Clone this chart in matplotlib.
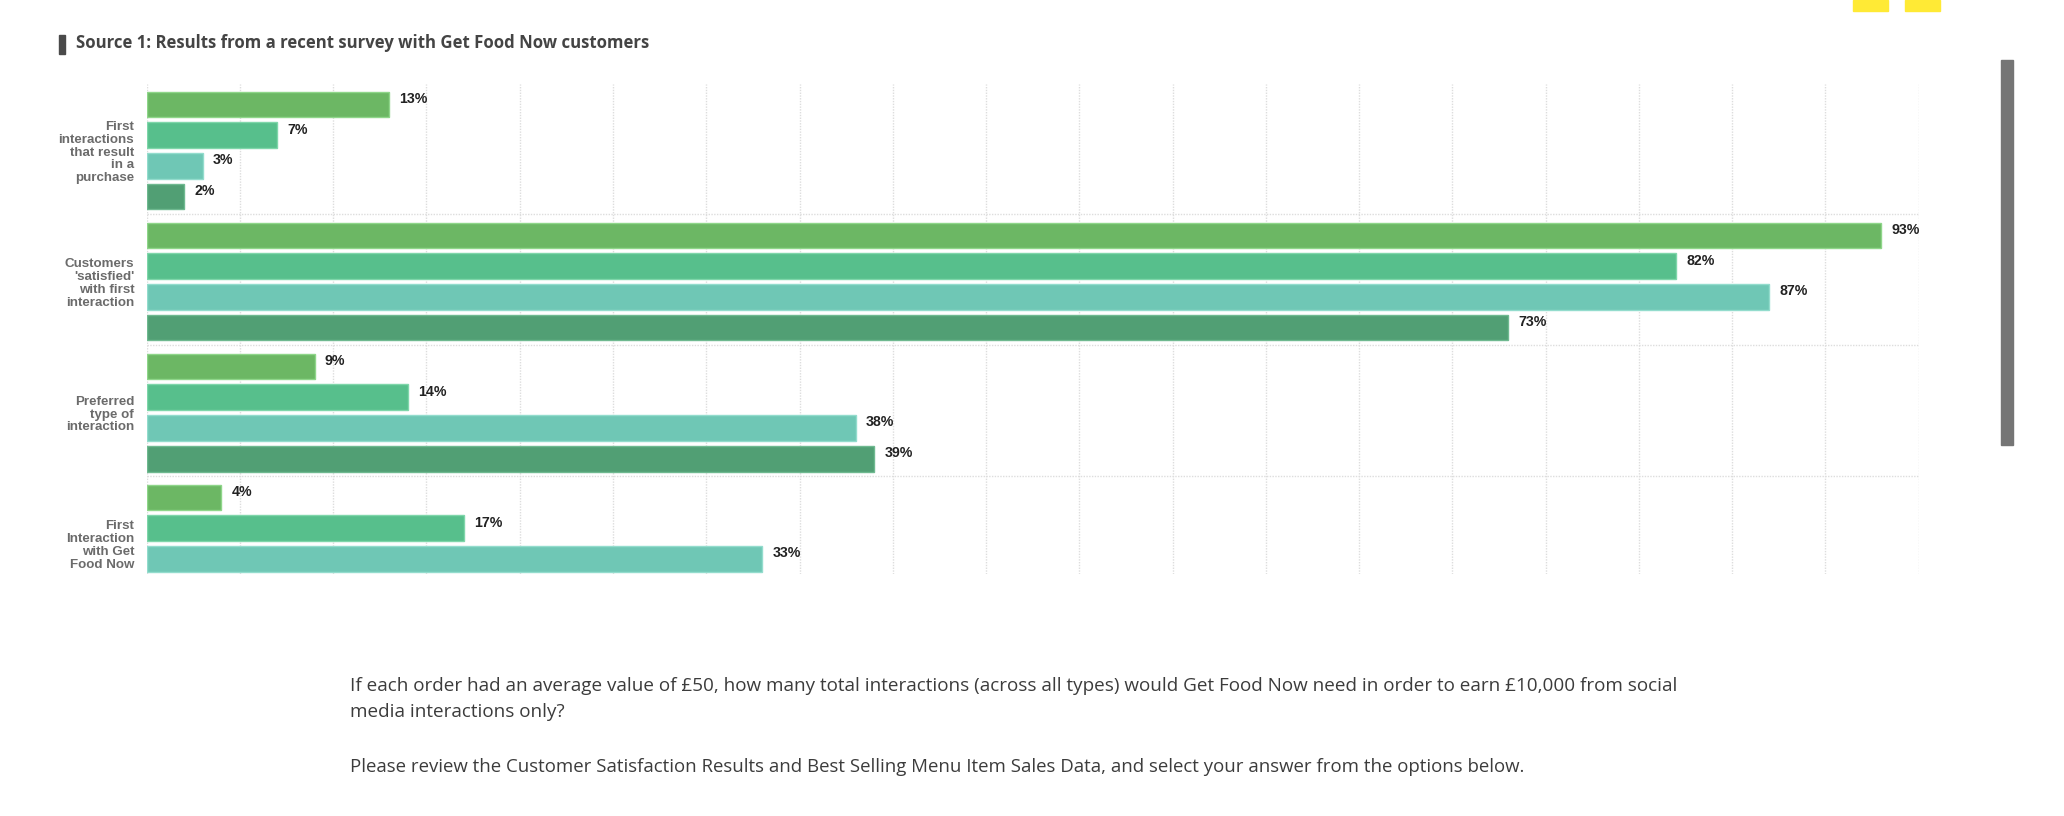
import numpy as np
import matplotlib.pyplot as plt
from matplotlib.patches import Rectangle

groups = ["First\ninteractions\nthat result\nin a\npurchase",
          "Customers\n'satisfied'\nwith first\ninteraction",
          "Preferred\ntype of\ninteraction",
          "First\nInteraction\nwith Get\nFood Now"]
s1 = [13, 93, 9, 4]
s2 = [7, 82, 14, 17]
s3 = [3, 87, 38, 33]
s4 = [2, 73, 39]
series = [s1, s2, s3, s4]
colors = ["#6cb764", "#57bf8c", "#6fc7b5", "#519f74"]
edges = ["#8fd68a", "#7fd6aa", "#93dccd", "#6fb990"]

title = "Source 1: Results from a recent survey with Get Food Now customers"
question = ("If each order had an average value of £50, how many total interactions (across all types) "
            "would Get Food Now need in order to earn £10,000 from social\nmedia interactions only?")
note = "Please review the Customer Satisfaction Results and Best Selling Menu Item Sales Data, and select your answer from the options below."

W, H = 2064, 816
fig = plt.figure(figsize=(W / 100, H / 100), dpi=100)
ax = fig.add_axes([146.7 / W, 1 - 574 / H, (1918.7 - 146.7) / W, (574 - 84) / H])

gstep = 4.267
bh = 0.837
for j, vals in enumerate(series):
    for i, v in enumerate(vals):
        y = i * gstep + j
        ax.barh(y, v, height=bh, color=colors[j], edgecolor=edges[j], lw=1, zorder=3)
        ax.annotate(f"{v}%", (v, y), xytext=(7.5, 4), textcoords="offset points",
                    ha="left", va="center", fontsize=10.2, fontweight="bold",
                    color="#222222", family="Liberation Sans", zorder=4)

ax.set_xlim(0, 95)
ax.set_ylim(15.29, -0.668)
for x in np.arange(0, 96, 5):
    ax.axvline(x, color="#dddddd", lw=1, ls=(0, (1, 1)), zorder=1)
for k in range(1, 4):
    ax.axhline(k * gstep - 0.7, color="#dddddd", lw=1, ls=(0, (1, 1)), zorder=1)

ax.set_yticks([i * gstep + 1.5 for i in range(4)])
ax.set_yticklabels(groups, fontsize=9.6, fontweight="bold", color="#6b6b6b",
                   family="Liberation Sans", linespacing=1.1)
ax.tick_params(axis="y", length=0, pad=9)
ax.set_xticks([])
for s in ax.spines.values():
    s.set_visible(False)

# header
fig.patches.append(Rectangle((59 / W, 1 - 54 / H), 5.5 / W, 18.5 / H,
                             transform=fig.transFigure, color="#4a4a4a"))
fig.text(76 / W, 1 - 43.5 / H, title, fontsize=12.1, fontweight="bold",
         color="#444444", family="Open Sans", va="center")

# yellow buttons and scrollbar
for x0 in [1853, 1905]:
    fig.patches.append(Rectangle((x0 / W, 1 - 10.5 / H), 35 / W, 10.5 / H,
                                 transform=fig.transFigure, color="#ffea35"))
fig.patches.append(Rectangle((2001 / W, 1 - 445 / H), 12 / W, 385 / H,
                             transform=fig.transFigure, color="#757575"))

# question text
fig.text(350 / W, 1 - 699 / H, question, fontsize=13.6, color="#3c3c3c",
         family="Open Sans", va="center", linespacing=1.55)
fig.text(350 / W, 1 - 767.5 / H, note, fontsize=13.4, color="#3c3c3c",
         family="Open Sans", va="center")

plt.savefig("out.png", dpi=100)
